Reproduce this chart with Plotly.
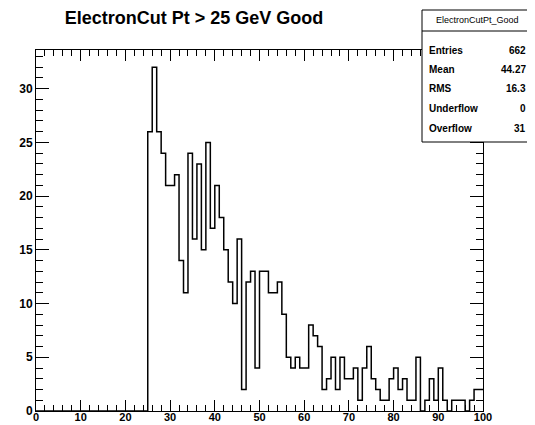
import plotly.graph_objects as go

# ---- data (bin contents, 1 GeV bins from 0 to 100) ----
bin_low_edges = list(range(0, 100))
counts = [0] * 25 + [
    26, 32, 26, 24, 21, 21, 22, 14, 11, 24,   # 25-34
    16, 23, 15, 25, 17, 21, 18, 15, 12, 10,   # 35-44
    16, 2, 12, 13, 4, 13, 13, 11, 11, 12,     # 45-54
    9, 5, 4, 5, 4, 4, 8, 7, 6, 2,             # 55-64
    3, 5, 2, 5, 3, 3, 4, 1, 4, 6,             # 65-74
    3, 2, 1, 1, 3, 4, 2, 3, 1, 1,             # 75-84
    5, 0, 1, 3, 1, 4, 1, 0, 1, 1,             # 85-94
    1, 0, 1, 2, 2,                            # 95-99
]
title_text = "ElectronCut Pt > 25 GeV Good"
stats_name = "ElectronCutPt_Good"
stats_labels = ["Entries", "Mean", "RMS", "Underflow", "Overflow"]
stats_values = ["662", "44.27", "16.3", "0", "31"]

# ---- geometry (window pixel coords; page body has an 8px margin) ----
OFF = 8
W, H = 535, 425
L, R, T, B = 36, 483, 50, 411
FW, FH = W - OFF, H - OFF


def px(X):
    return (X - L) / (R - L)


def py(Y):
    return (B - Y) / (B - T)


FONT = "Liberation Sans"

xs = bin_low_edges + [100]
ys = counts + [counts[-1]]

fig = go.Figure()
fig.add_trace(go.Scatter(
    x=xs, y=ys, mode="lines",
    line=dict(shape="hv", color="black", width=1.5),
    hoverinfo="skip", showlegend=False,
))

fig.update_xaxes(
    range=[0, 100], showgrid=False, zeroline=False, automargin=False,
    showline=True, linecolor="black", linewidth=1, mirror="ticks",
    ticks="inside", ticklen=11, tickwidth=1, tickcolor="black",
    dtick=10, tick0=0, ticklabelstandoff=-4,
    minor=dict(ticks="inside", ticklen=6, dtick=2, tickcolor="black", showgrid=False),
    tickfont=dict(family=FONT, size=11, color="black", weight="bold"),
)
fig.update_yaxes(
    range=[0, 33.6], showgrid=False, zeroline=False, automargin=False,
    showline=True, linecolor="black", linewidth=1, mirror="ticks",
    ticks="inside", ticklen=13, tickwidth=1, tickcolor="black",
    dtick=5, tick0=0,
    minor=dict(ticks="inside", ticklen=7, dtick=1, tickcolor="black", showgrid=False),
    tickfont=dict(family=FONT, size=12, color="black", weight="bold"),
)

shapes = [
    dict(type="rect", xref="paper", yref="paper",
         x0=px(422), x1=px(532), y0=py(142), y1=py(10),
         fillcolor="white", line=dict(color="black", width=1), layer="above"),
    dict(type="line", xref="paper", yref="paper",
         x0=px(422), x1=px(532), y0=py(31), y1=py(31),
         line=dict(color="black", width=1), layer="above"),
]

annotations = [
    dict(text=stats_name, xref="paper", yref="paper", x=px(477), y=py(20),
         xanchor="center", yanchor="middle", showarrow=False,
         font=dict(family=FONT, size=9, color="black")),
]
row_y = [50, 69, 88, 108, 128]
for lab, val, yy in zip(stats_labels, stats_values, row_y):
    annotations.append(dict(text=lab, xref="paper", yref="paper", x=px(427), y=py(yy),
                            xanchor="left", yanchor="middle", showarrow=False,
                            font=dict(family=FONT, size=10, color="black", weight="bold")))
    annotations.append(dict(text=val, xref="paper", yref="paper", x=px(528), y=py(yy),
                            xanchor="right", yanchor="middle", showarrow=False,
                            font=dict(family=FONT, size=10, color="black", weight="bold")))

fig.update_layout(
    width=FW, height=FH,
    margin=dict(l=L - OFF, r=W - R, t=T - OFF, b=H - B, pad=0, autoexpand=False),
    paper_bgcolor="white", plot_bgcolor="white",
    title=dict(text=title_text, x=(194 - OFF) / FW, xanchor="center", xref="container",
               y=1 - (18 - OFF) / FH, yanchor="middle", yref="container",
               automargin=False,
               font=dict(family=FONT, size=18, color="black", weight="bold")),
    shapes=shapes, annotations=annotations,
)

fig.write_html("out.html")
